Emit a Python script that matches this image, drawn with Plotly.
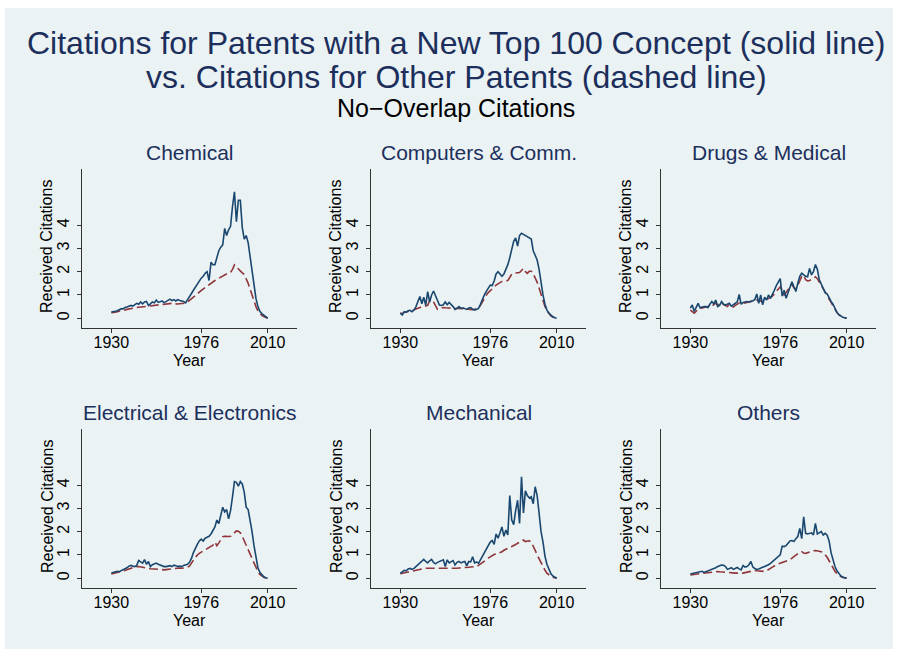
import plotly.graph_objects as go

years = list(range(1930, 2011))

categories = ["Chemical", "Computers & Comm.", "Drugs & Medical",
              "Electrical & Electronics", "Mechanical", "Others"]

chemical_new = [
    0.27, 0.27, 0.30, 0.32, 0.36, 0.40, 0.40, 0.46, 0.48, 0.50,
    0.55, 0.52, 0.60, 0.64, 0.60, 0.70, 0.62, 0.70, 0.72, 0.55,
    0.62, 0.70, 0.66, 0.78, 0.68, 0.72, 0.74, 0.66, 0.72, 0.78,
    0.82, 0.76, 0.80, 0.74, 0.80, 0.76, 0.74, 0.72, 0.66, 0.78,
    0.92, 1.06, 1.20, 1.34, 1.48, 1.62, 1.72, 1.80, 1.93, 2.00,
    1.62, 2.40, 2.30, 2.30, 2.60, 2.90, 3.05, 3.15, 3.86, 3.55,
    3.80, 3.95, 4.80, 5.43, 4.15, 5.07, 5.07, 3.90, 3.40, 3.55,
    3.25, 2.60, 2.00, 1.35, 0.85, 0.50, 0.30, 0.20, 0.12, 0.05,
    0.0]
chemical_other = [
    0.24, 0.24, 0.26, 0.28, 0.29, 0.30, 0.32, 0.35, 0.38, 0.40,
    0.43, 0.44, 0.45, 0.46, 0.47, 0.48, 0.48, 0.50, 0.52, 0.53,
    0.52, 0.55, 0.56, 0.57, 0.57, 0.58, 0.59, 0.60, 0.61, 0.62,
    0.63, 0.64, 0.62, 0.60, 0.61, 0.62, 0.63, 0.64, 0.65, 0.70,
    0.76, 0.83, 0.88, 0.96, 1.04, 1.12, 1.20, 1.27, 1.32, 1.38,
    1.45, 1.52, 1.57, 1.62, 1.67, 1.72, 1.76, 1.82, 1.88, 1.92,
    1.95, 1.97, 2.10, 2.29, 2.20, 2.12, 2.00, 1.95, 1.88, 1.70,
    1.50, 1.25, 1.00, 0.70, 0.50, 0.32, 0.20, 0.12, 0.07, 0.03,
    0.0]

computers_new = [
    0.22, 0.14, 0.28, 0.26, 0.32, 0.34, 0.28, 0.35, 0.50, 0.70,
    0.93, 0.62, 0.90, 0.55, 1.14, 0.70, 1.00, 1.17, 0.95, 0.72,
    0.57, 0.55, 0.58, 0.70, 0.58, 0.68, 0.60, 0.50, 0.38, 0.42,
    0.50, 0.42, 0.45, 0.42, 0.38, 0.44, 0.46, 0.38, 0.36, 0.38,
    0.42, 0.60, 0.82, 1.00, 1.15, 1.30, 1.42, 1.40, 1.60, 1.90,
    2.00, 1.90, 1.80, 1.90, 2.10, 2.30, 2.60, 2.90, 3.30, 3.45,
    3.10, 3.55, 3.65, 3.60, 3.55, 3.50, 3.45, 3.40, 2.90, 2.70,
    2.50, 2.10, 1.50, 1.00, 0.60, 0.35, 0.22, 0.12, 0.06, 0.02,
    0.0]
computers_other = [
    0.22, 0.20, 0.25, 0.28, 0.30, 0.32, 0.34, 0.36, 0.40, 0.44,
    0.46, 0.48, 0.50, 0.52, 0.55, 0.75, 0.80, 0.70, 0.55, 0.38,
    0.40, 0.44, 0.46, 0.45, 0.44, 0.43, 0.44, 0.43, 0.42, 0.43,
    0.42, 0.40, 0.41, 0.39, 0.38, 0.37, 0.36, 0.37, 0.38, 0.39,
    0.42, 0.55, 0.70, 0.88, 1.00, 1.10, 1.20, 1.30, 1.35, 1.42,
    1.48, 1.55, 1.58, 1.60, 1.60, 1.62, 1.75, 1.90, 1.93, 1.94,
    1.95, 1.96, 2.05, 2.14, 2.00, 1.93, 2.02, 2.02, 1.90, 1.75,
    1.55, 1.30, 1.00, 0.75, 0.50, 0.32, 0.20, 0.10, 0.05, 0.02,
    0.0]

drugs_new = [
    0.43, 0.57, 0.29, 0.50, 0.64, 0.45, 0.48, 0.50, 0.50, 0.45,
    0.60, 0.72, 0.62, 0.78, 0.50, 0.55, 0.72, 0.60, 0.57, 0.62,
    0.64, 0.52, 0.58, 0.64, 0.70, 1.02, 0.60, 0.68, 0.70, 0.72,
    0.70, 0.72, 0.75, 0.80, 1.04, 0.64, 1.00, 0.58, 0.90, 0.78,
    1.00, 0.85, 1.00, 1.20, 1.40, 1.55, 1.70, 0.95, 1.20, 0.86,
    1.10, 1.30, 1.57, 1.35, 1.15, 1.50, 1.80, 1.93, 1.85, 1.80,
    1.78, 2.14, 1.86, 2.00, 2.31, 2.10, 1.65, 1.45, 1.30, 1.10,
    1.05, 0.85, 0.72, 0.60, 0.42, 0.25, 0.15, 0.08, 0.04, 0.02,
    0.0]
drugs_other = [
    0.35, 0.28, 0.22, 0.30, 0.40, 0.42, 0.45, 0.46, 0.48, 0.50,
    0.55, 0.52, 0.58, 0.65, 0.55, 0.60, 0.68, 0.58, 0.55, 0.50,
    0.60, 0.52, 0.48, 0.55, 0.60, 0.65, 0.62, 0.64, 0.66, 0.68,
    0.68, 0.70, 0.72, 0.74, 0.78, 0.72, 0.75, 0.68, 0.72, 0.78,
    0.85, 0.90, 0.95, 1.05, 1.15, 1.25, 1.35, 1.20, 1.00, 1.10,
    1.25, 1.35, 1.45, 1.30, 1.25, 1.40, 1.60, 1.80, 1.85, 1.65,
    1.60, 1.62, 1.66, 1.70, 1.78, 1.70, 1.55, 1.40, 1.25, 1.12,
    1.00, 0.85, 0.70, 0.55, 0.40, 0.25, 0.15, 0.08, 0.04, 0.02,
    0.0]

electrical_new = [
    0.22, 0.24, 0.26, 0.30, 0.28, 0.32, 0.36, 0.40, 0.45, 0.52,
    0.55, 0.52, 0.50, 0.55, 0.76, 0.70, 0.65, 0.80, 0.60, 0.72,
    0.50, 0.58, 0.62, 0.65, 0.60, 0.56, 0.52, 0.50, 0.50, 0.52,
    0.54, 0.50, 0.56, 0.54, 0.50, 0.52, 0.50, 0.55, 0.56, 0.60,
    0.68, 0.85, 1.10, 1.30, 1.45, 1.60, 1.68, 1.60, 1.72, 1.76,
    1.80, 1.90, 2.05, 2.20, 2.50, 2.35, 2.70, 3.05, 2.85, 2.95,
    2.55, 2.90, 3.50, 4.15, 4.12, 3.95, 4.15, 4.05, 3.70, 3.05,
    2.95, 2.50, 2.00, 1.40, 0.85, 0.45, 0.25, 0.13, 0.06, 0.02,
    0.0]
electrical_other = [
    0.18, 0.20, 0.22, 0.24, 0.26, 0.28, 0.30, 0.33, 0.36, 0.40,
    0.43, 0.45, 0.47, 0.50, 0.50, 0.48, 0.45, 0.43, 0.42, 0.42,
    0.41, 0.40, 0.40, 0.40, 0.39, 0.38, 0.37, 0.36, 0.37, 0.38,
    0.40, 0.42, 0.43, 0.43, 0.43, 0.44, 0.43, 0.43, 0.45, 0.48,
    0.52, 0.65, 0.78, 0.90, 1.00, 1.07, 1.12, 1.16, 1.20, 1.25,
    1.30, 1.36, 1.42, 1.55, 1.40, 1.52, 1.65, 1.78, 1.80, 1.78,
    1.79, 1.80, 1.88, 1.95, 2.03, 2.02, 1.95, 1.80, 1.60, 1.40,
    1.22, 1.00, 0.80, 0.60, 0.42, 0.28, 0.16, 0.08, 0.04, 0.01,
    0.0]

mechanical_new = [
    0.21, 0.26, 0.34, 0.32, 0.40, 0.42, 0.38, 0.42, 0.50, 0.58,
    0.65, 0.72, 0.81, 0.72, 0.66, 0.75, 0.81, 0.68, 0.62, 0.68,
    0.72, 0.74, 0.79, 0.50, 0.79, 0.66, 0.70, 0.76, 0.57, 0.68,
    0.72, 0.66, 0.70, 0.72, 0.53, 0.72, 0.70, 0.92, 0.66, 0.70,
    0.64, 0.80, 0.95, 1.10, 1.25, 1.40, 1.55, 1.62, 1.45, 1.90,
    1.72, 1.95, 2.20, 1.80, 2.07, 1.86, 3.55, 2.50, 2.30, 2.90,
    3.35, 2.35, 4.36, 2.80, 3.75, 3.55, 3.45, 3.50, 3.20, 3.93,
    3.55, 2.80, 2.00, 1.55, 0.95, 0.60, 0.35, 0.20, 0.10, 0.04,
    0.0]
mechanical_other = [
    0.19, 0.21, 0.24, 0.26, 0.29, 0.31, 0.33, 0.35, 0.37, 0.39,
    0.40, 0.41, 0.42, 0.43, 0.43, 0.43, 0.43, 0.43, 0.43, 0.43,
    0.42, 0.42, 0.41, 0.41, 0.40, 0.40, 0.41, 0.42, 0.42, 0.43,
    0.44, 0.44, 0.45, 0.46, 0.47, 0.47, 0.48, 0.48, 0.49, 0.50,
    0.55, 0.62, 0.68, 0.74, 0.80, 0.86, 0.92, 0.98, 1.02, 1.04,
    1.07, 1.10, 1.14, 1.20, 1.25, 1.30, 1.33, 1.36, 1.39, 1.45,
    1.50, 1.57, 1.60, 1.64, 1.57, 1.60, 1.61, 1.55, 1.40, 1.20,
    1.00, 0.82, 0.65, 0.50, 0.35, 0.22, 0.14, 0.07, 0.04, 0.02,
    0.0]

others_new = [
    0.18, 0.20, 0.23, 0.24, 0.25, 0.28, 0.30, 0.25, 0.28, 0.32,
    0.36, 0.38, 0.42, 0.45, 0.50, 0.55, 0.57, 0.56, 0.50, 0.38,
    0.42, 0.45, 0.38, 0.42, 0.46, 0.40, 0.36, 0.55, 0.48, 0.50,
    0.58, 0.72, 0.48, 0.42, 0.38, 0.40, 0.43, 0.46, 0.50, 0.54,
    0.58, 0.64, 0.72, 0.80, 0.88, 0.95, 1.00, 1.38, 1.36, 1.40,
    1.50, 1.60, 1.62, 1.58, 1.70, 1.79, 2.14, 1.70, 2.64, 1.93,
    1.90, 1.93, 1.95, 1.86, 2.36, 1.90, 1.95, 2.00, 1.86, 1.93,
    1.85, 1.60, 1.10, 0.75, 0.50, 0.32, 0.18, 0.10, 0.05, 0.02,
    0.0]
others_other = [
    0.14, 0.15, 0.16, 0.17, 0.18, 0.20, 0.21, 0.23, 0.25, 0.26,
    0.27, 0.28, 0.29, 0.29, 0.29, 0.28, 0.27, 0.27, 0.26, 0.26,
    0.25, 0.24, 0.23, 0.22, 0.22, 0.21, 0.21, 0.22, 0.24, 0.26,
    0.28, 0.30, 0.32, 0.33, 0.32, 0.31, 0.30, 0.29, 0.29, 0.32,
    0.36, 0.42, 0.48, 0.54, 0.58, 0.62, 0.65, 0.68, 0.70, 0.73,
    0.76, 0.80, 0.86, 0.92, 1.00, 1.06, 1.12, 1.14, 1.08, 1.07,
    1.10, 1.14, 1.16, 1.18, 1.19, 1.18, 1.16, 1.14, 1.10, 1.02,
    0.90, 0.75, 0.58, 0.43, 0.30, 0.20, 0.12, 0.07, 0.03, 0.01,
    0.0]

new_series = [chemical_new, computers_new, drugs_new,
              electrical_new, mechanical_new, others_new]
other_series = [chemical_other, computers_other, drugs_other,
                electrical_other, mechanical_other, others_other]

x_ticks = [1930, 1976, 2010]
y_ticks = [0, 1, 2, 3, 4]

W, H = 898, 656
BG = "#EAF2F3"
NAVY = "#1a476f"
MAROON = "#90353b"
TITLE = "#1c2f5c"
FONT = "Liberation Sans, Arial, sans-serif"

col_l = [82, 371, 661]
col_r = [297, 586, 876]
row_t = [169, 429]
row_b = [328, 588]
title_cx = 456

fig = go.Figure()
annotations = []
layout = {}

for i, name in enumerate(categories):
    r, c = divmod(i, 3)
    idx = i + 1
    xa = "x" if idx == 1 else f"x{idx}"
    ya = "y" if idx == 1 else f"y{idx}"
    fig.add_trace(go.Scatter(x=years, y=other_series[i], mode="lines",
                             line=dict(color=MAROON, width=1.6, dash="9px,4px"),
                             xaxis=xa, yaxis=ya, showlegend=False, hoverinfo="skip"))
    fig.add_trace(go.Scatter(x=years, y=new_series[i], mode="lines",
                             line=dict(color=NAVY, width=1.6),
                             xaxis=xa, yaxis=ya, showlegend=False, hoverinfo="skip"))
    xd = [col_l[c] / W, col_r[c] / W]
    yd = [1 - row_b[r] / H, 1 - row_t[r] / H]
    layout[f"xaxis{idx}"] = dict(
        domain=xd, range=[1915, 2025], anchor=ya, tickvals=x_ticks,
        ticks="outside", ticklen=4, tickcolor="#333", tickwidth=1,
        showline=True, linecolor="#333", linewidth=1, showgrid=False,
        zeroline=False, tickfont=dict(family=FONT, size=16, color="#000"),
        ticklabelstandoff=-4, fixedrange=True)
    layout[f"yaxis{idx}"] = dict(
        domain=yd, range=[-0.42, 6.41], anchor=xa, tickvals=y_ticks,
        ticks="outside", ticklen=4, tickcolor="#333", tickwidth=1,
        showline=True, linecolor="#333", linewidth=1, showgrid=True,
        gridcolor=BG, gridwidth=1.5, zeroline=False, tickangle=-90,
        tickfont=dict(family=FONT, size=16, color="#000"),
        ticklabelstandoff=2, fixedrange=True)
    cx = (col_l[c] + col_r[c]) / 2
    annotations.append(dict(text=name, x=cx / W, y=1 - (row_t[r] - 17) / H,
                            xref="paper", yref="paper", showarrow=False,
                            xanchor="center", yanchor="middle",
                            font=dict(family=FONT, size=21, color=TITLE)))
    annotations.append(dict(text="Year", x=cx / W, y=1 - (row_b[r] + 32) / H,
                            xref="paper", yref="paper", showarrow=False,
                            xanchor="center", yanchor="middle",
                            font=dict(family=FONT, size=16, color="#000")))
    annotations.append(dict(text="Received Citations", x=(col_l[c] - 35) / W,
                            y=1 - (row_t[r] + 78) / H, textangle=-90,
                            xref="paper", yref="paper", showarrow=False,
                            xanchor="center", yanchor="middle",
                            font=dict(family=FONT, size=16, color="#000")))

annotations.append(dict(text="Citations for Patents with a New Top 100 Concept (solid line)",
                        x=title_cx / W, y=1 - 43 / H, xref="paper", yref="paper",
                        showarrow=False, xanchor="center", yanchor="middle",
                        font=dict(family=FONT, size=32, color=TITLE)))
annotations.append(dict(text="vs. Citations for Other Patents (dashed line)",
                        x=title_cx / W, y=1 - 77 / H, xref="paper", yref="paper",
                        showarrow=False, xanchor="center", yanchor="middle",
                        font=dict(family=FONT, size=32, color=TITLE)))
annotations.append(dict(text="No\u2212Overlap Citations",
                        x=title_cx / W, y=1 - 108 / H, xref="paper", yref="paper",
                        showarrow=False, xanchor="center", yanchor="middle",
                        font=dict(family=FONT, size=25, color="#000")))

fig.update_layout(
    width=W, height=H, margin=dict(l=0, r=0, t=0, b=0),
    paper_bgcolor="white", plot_bgcolor="white",
    annotations=annotations,
    shapes=[dict(type="rect", xref="paper", yref="paper",
                 x0=5 / W, x1=893 / W, y0=1 - 649 / H, y1=1 - 8 / H,
                 fillcolor=BG, line=dict(width=0), layer="below")],
    **layout)

fig.write_html("out.html", config={"displayModeBar": False},
               post_script="document.body.style.margin='0px';")
